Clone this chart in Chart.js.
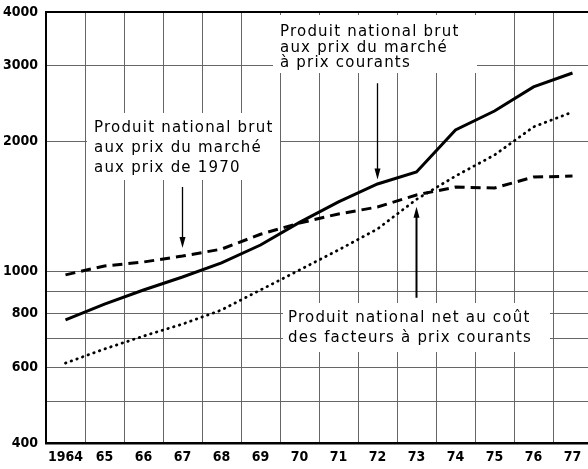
<!DOCTYPE html>
<html>
<head>
<meta charset="utf-8">
<script src="https://cdn.jsdelivr.net/npm/chart.js@4.4.1/dist/chart.umd.min.js"></script>
<style>
  html, body { margin: 0; padding: 0; background: #fff; overflow: hidden; }
  #wrap { width: 592px; height: 469px; }
</style>
</head>
<body>
<div id="wrap"><canvas id="gdpChart"></canvas></div>
<script>
const years = ["1964", "65", "66", "67", "68", "69", "70", "71", "72", "73", "74", "75", "76", "77"];

// PNB aux prix du marché, prix courants (solid)
const pnbCourants = [772, 840, 906, 971, 1047, 1152, 1300, 1450, 1596, 1702, 2130, 2357, 2680, 2887];
// PNB aux prix du marché, prix de 1970 (dashed)
const pnb1970 = [982, 1030, 1052, 1086, 1127, 1220, 1295, 1360, 1411, 1505, 1570, 1562, 1656, 1665];
// PNN au coût des facteurs, prix courants (dotted)
const pnnFacteurs = [613, 661, 708, 755, 814, 906, 1008, 1122, 1255, 1470, 1665, 1863, 2165, 2344];

const yTicks = [400, 500, 600, 700, 800, 900, 1000, 2000, 3000, 4000];
const yLabelled = [400, 600, 800, 1000, 2000, 3000, 4000];

const textFont = "15px 'DejaVu Sans', sans-serif";
const tickFont = { family: "'DejaVu Sans Condensed', 'DejaVu Sans', sans-serif", size: 14, weight: "bold" };

// text boxes (pixels) and arrows (category index, value from -> to)
const notes = [
  { box: [273, 15, 204, 58], x: 280, y: 36, lh: 15.5,
    lines: ["Produit national brut", "aux prix du marché", "à prix courants"] },
  { box: [87, 113, 193, 67], x: 94, y: 132, lh: 20,
    lines: ["Produit national brut", "aux prix du marché", "aux prix de 1970"] },
  { box: [283, 303, 267, 49], x: 288, y: 322, lh: 20,
    lines: ["Produit national net au coût", "des facteurs à prix courants"] }
];
const arrows = [
  { i: 8, from: 2734, to: 1634, w: 1.3 },
  { i: 3, from: 1571, to: 1134, w: 1.3 },
  { i: 9, from: 869, to: 1414, w: 2 }
];

const notesPlugin = {
  id: "notes",
  beforeDatasetsDraw(chart) {
    const { ctx, scales } = chart;
    ctx.save();
    notes.forEach(n => {
      ctx.fillStyle = "#fff";
      ctx.fillRect(n.box[0], n.box[1], n.box[2], n.box[3]);
      ctx.fillStyle = "#000";
      ctx.font = textFont;
      ctx.letterSpacing = "1.2px";
      ctx.textBaseline = "alphabetic";
      ctx.textAlign = "left";
      n.lines.forEach((t, k) => ctx.fillText(t, n.x, n.y + k * n.lh));
    });
    ctx.letterSpacing = "0px";
    arrows.forEach(a => {
      const x = scales.x.getPixelForValue(a.i);
      const y0 = scales.y.getPixelForValue(a.from);
      const y1 = scales.y.getPixelForValue(a.to);
      const dir = y1 > y0 ? 1 : -1;
      ctx.strokeStyle = "#000";
      ctx.lineWidth = a.w;
      ctx.beginPath();
      ctx.moveTo(x, y0);
      ctx.lineTo(x, y1 - dir * 8);
      ctx.stroke();
      ctx.fillStyle = "#000";
      ctx.beginPath();
      ctx.moveTo(x, y1);
      ctx.lineTo(x - 3, y1 - dir * 11);
      ctx.lineTo(x + 3, y1 - dir * 11);
      ctx.closePath();
      ctx.fill();
    });
    ctx.restore();
  }
};

const line = (data, dash, width, cap) => ({
  data,
  borderColor: "#000",
  borderWidth: width,
  borderDash: dash,
  borderCapStyle: cap,
  pointRadius: 0,
  tension: 0,
  fill: false
});

new Chart(document.getElementById("gdpChart"), {
  type: "line",
  data: {
    labels: years,
    datasets: [
      line(pnbCourants, [], 3, "butt"),
      line(pnb1970, [10, 6], 3, "butt"),
      line(pnnFacteurs, [0.5, 5.5], 2.8, "round")
    ]
  },
  options: {
    responsive: true,
    maintainAspectRatio: false,
    animation: false,
    layout: { padding: { top: 12, right: 0, left: 0, bottom: 0 } },
    plugins: { legend: { display: false }, tooltip: { enabled: false } },
    scales: {
      x: {
        type: "category",
        offset: true,
        grid: { offset: true, color: "#666", lineWidth: 1, drawTicks: false },
        border: { display: true, color: "#000", width: 2.5 },
        ticks: {
          color: "#000",
          padding: 6,
          maxRotation: 0,
          autoSkip: false,
          font: tickFont
        },
        afterFit: s => { s.height = 26; s.paddingLeft = 0; s.paddingRight = 0; }
      },
      y: {
        type: "logarithmic",
        min: 400,
        max: 4000,
        afterBuildTicks: s => { s.ticks = yTicks.map(v => ({ value: v })); },
        grid: {
          drawTicks: false,
          color: c => (c.tick && c.tick.value === 4000 ? "#000" : "#666"),
          lineWidth: c => (c.tick && c.tick.value === 4000 ? 2 : 1)
        },
        border: { display: true, color: "#000", width: 2 },
        ticks: {
          color: "#000",
          padding: 8,
          autoSkip: false,
          callback: v => (yLabelled.includes(v) ? String(v) : ""),
          font: tickFont
        },
        afterFit: s => { s.width = 46; s.paddingTop = 0; s.paddingBottom = 0; }
      }
    }
  },
  plugins: [notesPlugin]
});
</script>
</body>
</html>
